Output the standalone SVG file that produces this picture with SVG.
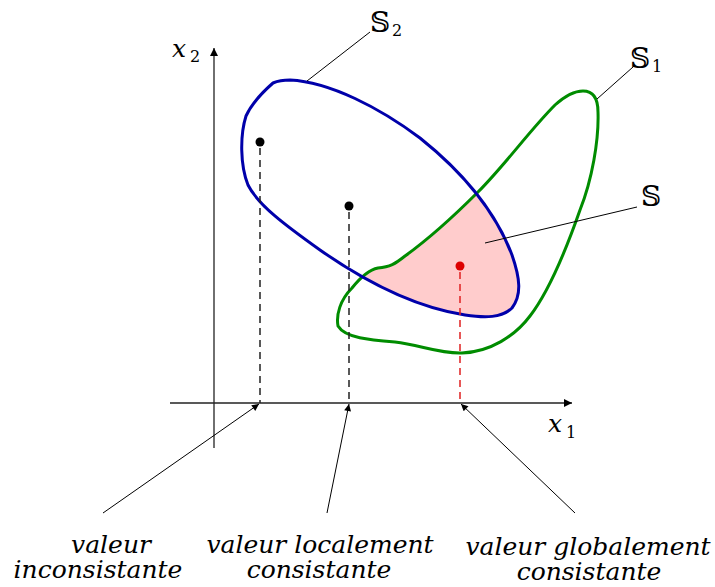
<svg xmlns="http://www.w3.org/2000/svg" width="715" height="587" viewBox="0 0 715 587">
<defs>
<style>
.ax{stroke:#222;stroke-width:1.3;fill:none}
.lead{stroke:#000;stroke-width:1;fill:none}
.dash{stroke:#222;stroke-width:1.5;stroke-dasharray:7,5;fill:none}
.dashr{stroke:#e02020;stroke-width:1.5;stroke-dasharray:7,5;fill:none}
</style>
<marker id="ah" viewBox="0 0 10 10" refX="10" refY="5" markerWidth="18" markerHeight="8" markerUnits="userSpaceOnUse" orient="auto">
<path d="M0,0 L10,5 L0,10 z" fill="#000"/>
</marker>
<marker id="ahs" viewBox="0 0 10 10" refX="10" refY="5" markerWidth="16" markerHeight="7" markerUnits="userSpaceOnUse" orient="auto">
<path d="M0,0 L10,5 L0,10 z" fill="#000"/>
</marker>
<path id="blueP" d="M290,80 C330,82 380,108 420,138 C460,170 495,210 512,255 C520,278 522,295 512,308 C502,318 485,318 465,315 C420,308 370,285 320,250 C285,225 258,205 248,185 C240,165 240,135 246,116 C252,103 265,90 273,83 C280,80 285,80 290,80 Z"/>
<path id="greenP" d="M583,91 C592,91 598,97 598,112 C599,140 592,180 580,210 C566,250 550,290 530,316 C515,336 490,352 462,353 C440,354 420,345 395,342 C370,340 345,338 338,326 C336,315 340,300 352,288 C360,278 368,270 378,268 C390,267 395,264 405,256 C430,238 455,215 478,192 C505,165 530,130 555,105 C565,96 575,91 583,91 Z"/>
<clipPath id="gclip"><use href="#greenP"/></clipPath>
</defs>

<g id="axes">
<line class="ax" x1="214" y1="448" x2="214" y2="48" marker-end="url(#ah)"/>
<line class="ax" x1="170" y1="403" x2="572" y2="403" marker-end="url(#ah)"/>
<text x="172" y="57" font-family="DejaVu Serif" font-style="italic" font-size="25">x</text><text x="190" y="62" font-family="DejaVu Serif" font-size="16">2</text>
<text x="548" y="432" font-family="DejaVu Serif" font-style="italic" font-size="25">x</text><text x="566" y="438" font-family="DejaVu Serif" font-size="16">1</text>
</g>

<g id="intersection-S">
<use href="#blueP" fill="#ffcccc" clip-path="url(#gclip)"/>
</g>
<g id="S1">
<use href="#greenP" fill="none" stroke="#008c00" stroke-width="3"/>
<text x="630" y="68" font-family="DejaVu Serif" font-size="28">𝕊</text><text x="652" y="72" font-family="DejaVu Serif" font-size="16">1</text>
</g>
<g id="S2">
<use href="#blueP" fill="none" stroke="#0000aa" stroke-width="3"/>
<text x="370" y="32" font-family="DejaVu Serif" font-size="28">𝕊</text><text x="392" y="36" font-family="DejaVu Serif" font-size="16">2</text>
</g>
<g id="S-label">
<text x="641" y="206" font-family="DejaVu Serif" font-size="28">𝕊</text>
</g>

<g id="points">
<circle cx="260" cy="142" r="4.5" fill="#000"/>
<circle cx="349" cy="206" r="4.5" fill="#000"/>
<circle cx="460" cy="266" r="4.5" fill="#dd0000"/>
</g>

<g id="connectors">
<line class="dash" x1="260" y1="148" x2="260" y2="403"/>
<line class="dash" x1="349" y1="212" x2="349" y2="403"/>
<line class="dashr" x1="460" y1="272" x2="460" y2="403"/>
<line class="lead" x1="370" y1="32" x2="307" y2="81"/>
<line class="lead" x1="633" y1="67" x2="597" y2="99"/>
<line class="lead" x1="637" y1="207" x2="485" y2="243"/>
<line class="lead" x1="103" y1="513" x2="259" y2="404" marker-end="url(#ahs)"/>
<line class="lead" x1="327" y1="513" x2="349" y2="404" marker-end="url(#ahs)"/>
<line class="lead" x1="575" y1="513" x2="461" y2="404" marker-end="url(#ahs)"/>
</g>

<g id="labels">
<text x="111" y="553" font-family="DejaVu Serif" font-style="italic" font-size="25" text-anchor="middle">valeur</text>
<text x="98" y="578" font-family="DejaVu Serif" font-style="italic" font-size="25" text-anchor="middle">inconsistante</text>
<text x="320" y="553" font-family="DejaVu Serif" font-style="italic" font-size="25" text-anchor="middle">valeur localement</text>
<text x="319" y="578" font-family="DejaVu Serif" font-style="italic" font-size="25" text-anchor="middle">consistante</text>
<text x="588" y="555" font-family="DejaVu Serif" font-style="italic" font-size="25" text-anchor="middle">valeur globalement</text>
<text x="589" y="580" font-family="DejaVu Serif" font-style="italic" font-size="25" text-anchor="middle">consistante</text>
</g>
</svg>
